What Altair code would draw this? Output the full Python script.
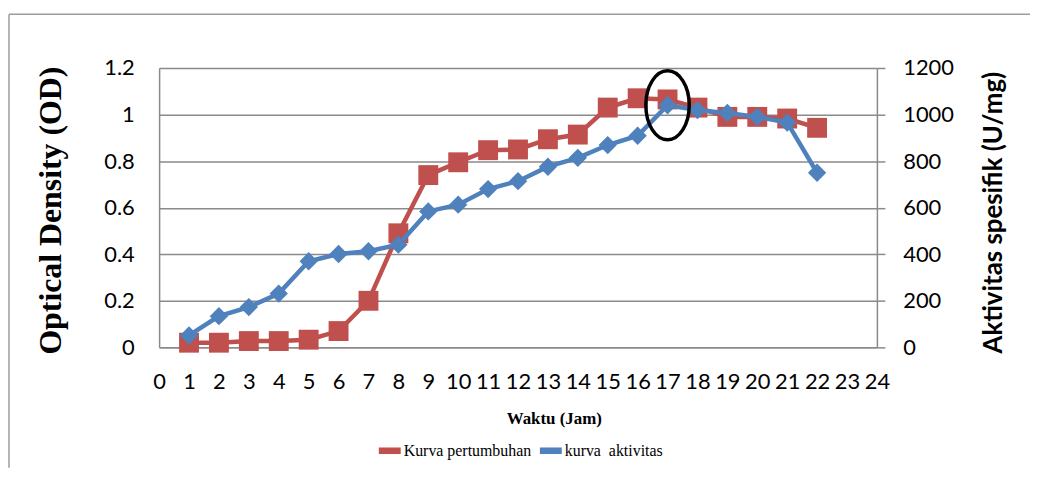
import altair as alt
import pandas as pd

# ---- data ----
hours = list(range(1, 23))
od_values = [0.02, 0.02, 0.027, 0.027, 0.033, 0.07, 0.20, 0.49, 0.74, 0.795, 0.847,
             0.85, 0.894, 0.914, 1.03, 1.07, 1.065, 1.03, 0.99, 0.99, 0.983, 0.943]
activity_values = [51, 134, 173, 231, 370, 401, 413, 441, 584, 613, 680,
                   714, 776, 814, 869, 909, 1040, 1019, 1007, 990, 966, 750]
series_names = ["Kurva pertumbuhan", "kurva\u00a0 aktivitas"]
x_ticks = list(range(0, 25))
od_ticks = [0, 0.2, 0.4, 0.6, 0.8, 1.0, 1.2]
activity_ticks = [0, 200, 400, 600, 800, 1000, 1200]
highlight_hour = 17

RED = "#C0504D"
BLUE = "#4F81BD"
GRID = "#8a8a8a"
FRAME = "#9c9c9c"

red_df = pd.DataFrame({"hour": hours, "value": od_values, "series": series_names[0]})
blue_df = pd.DataFrame({"hour": hours, "value": activity_values, "series": series_names[1]})
one_row = pd.DataFrame({"k": [0]})

x_enc = alt.X(
    "hour:Q",
    scale=alt.Scale(domain=[0, 24], nice=False, zero=False),
    axis=alt.Axis(
        values=x_ticks, format="d", ticks=False, grid=False,
        domainColor=GRID, domainWidth=1.5,
        labelFont="Lato", labelFontSize=22, labelColor="#000", labelPadding=24,
        labelOverlap=False, labelFlush=False,
        title="Waktu (Jam)", titleFont="Liberation Serif", titleFontWeight="bold",
        titleFontSize=17, titleColor="#000", titleX=397, titleY=72,
        titleBaseline="middle",
    ),
)

y_left = alt.Y(
    "value:Q",
    scale=alt.Scale(domain=[0, 1.2], nice=False),
    axis=alt.Axis(
        orient="left", values=od_ticks, format=".1~f", ticks=False,
        grid=True, gridColor=GRID, gridWidth=1.5,
        domainColor=GRID, domainWidth=1.5,
        labelFont="Lato", labelFontSize=22, labelColor="#000", labelPadding=25,
        title="Optical Density (OD)", titleFont="Liberation Serif",
        titleFontWeight="bold", titleFontSize=32, titleColor="#000",
        titleAngle=-90, titleX=-109, titleY=143, titleBaseline="middle",
    ),
)

y_right = alt.Y(
    "value:Q",
    scale=alt.Scale(domain=[0, 1200], nice=False),
    axis=alt.Axis(
        orient="right", values=activity_ticks, format="d",
        ticks=True, tickSize=8, tickColor=GRID, tickWidth=1.5,
        grid=False, domainColor=GRID, domainWidth=1.5,
        labelFont="Lato", labelFontSize=22, labelColor="#000", labelPadding=18,
        title="Aktivitas spesifik (U/mg)", titleFont="Lato",
        titleFontWeight="bold", titleFontSize=26, titleColor="#000",
        titleAngle=-90, titleX=117, titleY=145, titleBaseline="middle",
    ),
)

color_enc = alt.Color(
    "series:N",
    scale=alt.Scale(domain=series_names, range=[RED, BLUE]),
    legend=alt.Legend(
        orient="none", legendX=221, legendY=374, direction="horizontal",
        title=None, symbolType="M-1,-0.3H1V0.3H-1Z", symbolSize=484,
        symbolStrokeWidth=0, symbolOpacity=1,
        labelFont="Liberation Serif", labelFontSize=16, labelColor="#000",
        labelOffset=3, columnPadding=8, labelLimit=400,
    ),
)

red_line = alt.Chart(red_df).mark_line(color=RED, strokeWidth=4.5).encode(x=x_enc, y=y_left)
red_pts = alt.Chart(red_df).mark_point(
    shape="square", filled=True, size=400, opacity=1, strokeWidth=0
).encode(x=x_enc, y=y_left, color=color_enc)

frame_v = alt.Chart(one_row).mark_rule(color=FRAME, strokeWidth=1.5).encode(
    x=alt.value(-151), y=alt.value(-54), y2=alt.value(402)
)
frame_h = alt.Chart(one_row).mark_rule(color=FRAME, strokeWidth=1.5).encode(
    x=alt.value(-151), x2=alt.value(876), y=alt.value(-54)
)

blue_line = alt.Chart(blue_df).mark_line(color=BLUE, strokeWidth=4.5).encode(x=x_enc, y=y_right)
blue_pts = alt.Chart(blue_df).mark_point(
    shape="diamond", filled=True, size=340, opacity=1, strokeWidth=0
).encode(x=x_enc, y=y_right, color=color_enc)

ellipse = alt.Chart(blue_df).transform_filter(
    alt.datum.hour == highlight_hour
).mark_point(
    shape="M0,-1A0.63,1 0 1,1 0,1A0.63,1 0 1,1 0,-1Z",
    filled=False, size=4800, color="#000", strokeWidth=3.5, opacity=1,
).encode(x=x_enc, y=y_right)

red_layer = alt.layer(red_line, red_pts, frame_v, frame_h)
blue_layer = alt.layer(blue_line, blue_pts, ellipse)

chart = (
    alt.layer(red_layer, blue_layer)
    .resolve_scale(y="independent")
    .properties(width=722, height=281, padding={"left": 0, "top": 4, "right": 0, "bottom": 0},
                background="white")
    .configure_view(strokeWidth=0)
)

chart.save("out.html", embed_options={"renderer": "svg", "actions": False})
